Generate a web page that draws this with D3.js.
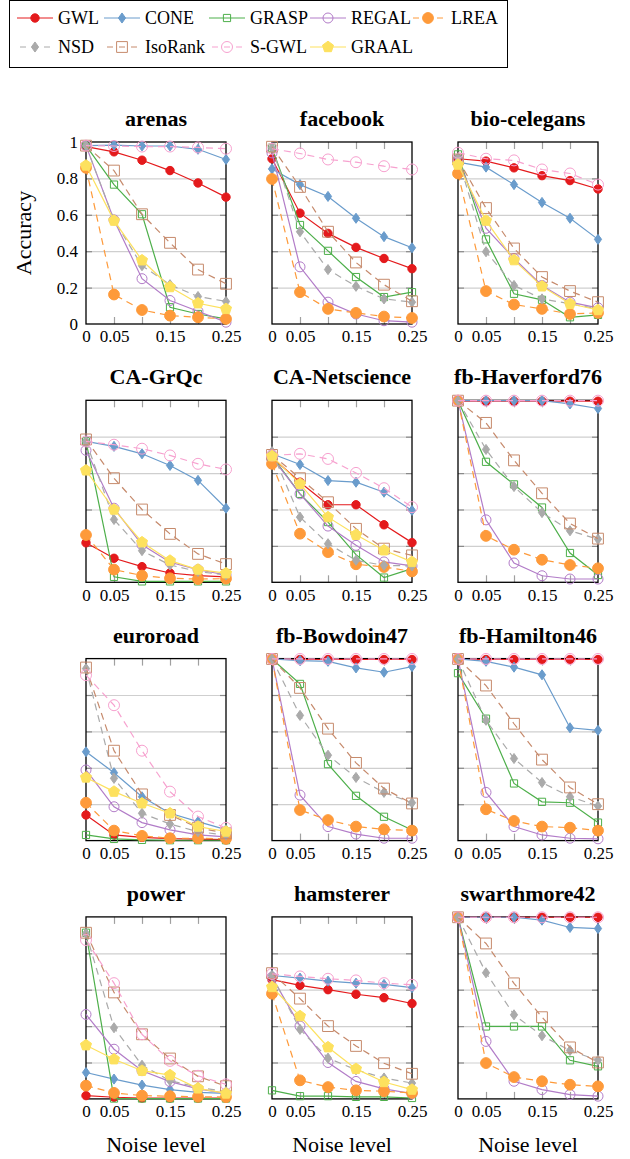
<!DOCTYPE html>
<html>
<head>
<meta charset="utf-8">
<script src="https://cdn.jsdelivr.net/npm/d3@7"></script>
<style>
  body { margin: 0; background: #fff; }
  svg  { display: block; }
</style>
</head>
<body>
<div id="chart"></div>
<script>
"use strict";

/* ── Data ── */
const noiseLevels = [0, 0.05, 0.1, 0.15, 0.2, 0.25];
const methods = ["GWL", "CONE", "GRASP", "REGAL", "LREA", "NSD", "IsoRank", "S-GWL", "GRAAL"];
const datasetNames = ["arenas", "facebook", "bio-celegans",
                      "CA-GrQc", "CA-Netscience", "fb-Haverford76",
                      "euroroad", "fb-Bowdoin47", "fb-Hamilton46",
                      "power", "hamsterer", "swarthmore42"];
const xLabelTicks = [0, 0.05, 0.15, 0.25];
const xTickLabels = ["0", "0.05", "0.15", "0.25"];
const xMinorTicks = [0.05, 0.1, 0.15, 0.2];
const yTicks      = [0, 0.2, 0.4, 0.6, 0.8, 1];
const yTickLabels = ["0", "0.2", "0.4", "0.6", "0.8", "1"];

// rows follow the order of `methods`; null = method not run on that graph
const arenas = [
  [0.975, 0.946, 0.900, 0.843, 0.775, 0.697],
  [0.980, 0.983, 0.978, 0.978, 0.960, 0.904],
  [0.980, 0.766, 0.603, 0.092, 0.055, 0.028],
  [0.980, 0.572, 0.249, 0.129, 0.070, 0.010],
  [0.858, 0.162, 0.077, 0.046, 0.037, 0.028],
  [0.980, 0.572, 0.320, 0.216, 0.151, 0.124],
  [0.980, 0.843, 0.603, 0.446, 0.299, 0.221],
  [0.980, 0.978, 0.975, 0.975, 0.970, 0.963],
  [0.871, 0.568, 0.350, 0.203, 0.114, 0.083]
];
const facebook = [
  [0.908, 0.609, 0.498, 0.421, 0.360, 0.304],
  [0.852, 0.766, 0.701, 0.581, 0.480, 0.419],
  [0.969, 0.544, 0.402, 0.258, 0.148, 0.175],
  [0.940, 0.314, 0.120, 0.055, 0.018, 0.010],
  [0.797, 0.175, 0.083, 0.061, 0.041, 0.033],
  [0.969, 0.507, 0.299, 0.207, 0.138, 0.120],
  [0.974, 0.753, 0.507, 0.338, 0.216, 0.125],
  [0.963, 0.937, 0.904, 0.889, 0.867, 0.849],
  null
];
const bioCelegans = [
  [0.908, 0.895, 0.858, 0.815, 0.788, 0.742],
  [0.889, 0.862, 0.766, 0.668, 0.581, 0.465],
  [0.932, 0.465, 0.166, 0.133, 0.037, 0.050],
  [0.904, 0.526, 0.360, 0.212, 0.120, 0.089],
  [0.827, 0.181, 0.107, 0.083, 0.055, 0.061],
  [0.913, 0.397, 0.212, 0.138, 0.111, 0.083],
  [0.904, 0.637, 0.415, 0.258, 0.181, 0.120],
  [0.941, 0.908, 0.899, 0.849, 0.827, 0.766],
  [0.876, 0.568, 0.351, 0.207, 0.111, 0.077]
];
const caGrQc = [
  [0.217, 0.132, 0.086, 0.051, 0.037, 0.030],
  [0.774, 0.747, 0.706, 0.642, 0.560, 0.407],
  [0.774, 0.030, 0.005, 0.005, 0.005, 0.005],
  [0.725, 0.407, 0.206, 0.110, 0.070, 0.040],
  [0.260, 0.070, 0.037, 0.022, 0.018, 0.020],
  [0.774, 0.345, 0.174, 0.095, 0.059, 0.040],
  [0.785, 0.572, 0.400, 0.266, 0.156, 0.100],
  [0.774, 0.756, 0.734, 0.697, 0.651, 0.620],
  [0.615, 0.400, 0.220, 0.119, 0.070, 0.050]
];
const caNetscience = [
  [0.687, 0.550, 0.426, 0.426, 0.316, 0.218],
  [0.706, 0.647, 0.559, 0.550, 0.495, 0.395],
  [0.693, 0.486, 0.331, 0.152, 0.026, 0.075],
  [0.687, 0.486, 0.309, 0.203, 0.112, 0.090],
  [0.651, 0.267, 0.166, 0.099, 0.084, 0.060],
  [0.718, 0.358, 0.212, 0.121, 0.093, 0.090],
  [0.700, 0.572, 0.440, 0.294, 0.185, 0.148],
  [0.697, 0.706, 0.678, 0.601, 0.517, 0.413],
  [0.693, 0.541, 0.358, 0.261, 0.176, 0.112]
];
const fbHaverford76 = [
  [0.995, 0.995, 0.995, 0.995, 0.995, 0.995],
  [0.998, 0.998, 0.998, 0.998, 0.980, 0.955],
  [0.998, 0.662, 0.538, 0.411, 0.161, 0.040],
  [0.998, 0.343, 0.106, 0.036, 0.018, 0.018],
  [0.998, 0.255, 0.179, 0.124, 0.095, 0.077],
  [0.998, 0.730, 0.526, 0.383, 0.283, 0.237],
  [0.998, 0.876, 0.670, 0.489, 0.323, 0.240],
  [0.998, 0.998, 0.998, 0.998, 0.998, 0.998],
  null
];
const euroroad = [
  [0.141, 0.031, 0.018, 0.011, 0.008, 0.005],
  [0.488, 0.373, 0.241, 0.150, 0.104, 0.060],
  [0.031, 0.009, 0.004, 0.002, 0.002, 0.002],
  [0.388, 0.186, 0.099, 0.059, 0.031, 0.020],
  [0.208, 0.055, 0.026, 0.013, 0.013, 0.010],
  [0.945, 0.342, 0.150, 0.091, 0.049, 0.030],
  [0.951, 0.494, 0.254, 0.141, 0.071, 0.040],
  [0.909, 0.744, 0.494, 0.269, 0.132, 0.070],
  [0.347, 0.269, 0.205, 0.150, 0.077, 0.050]
];
const fbBowdoin47 = [
  [0.995, 0.995, 0.995, 0.995, 0.995, 0.995],
  [0.998, 0.989, 0.985, 0.949, 0.925, 0.956],
  [0.998, 0.861, 0.420, 0.246, 0.131, 0.058],
  [0.998, 0.250, 0.077, 0.036, 0.013, 0.013],
  [0.998, 0.168, 0.113, 0.077, 0.062, 0.055],
  [0.998, 0.688, 0.469, 0.347, 0.265, 0.208],
  [0.998, 0.839, 0.615, 0.427, 0.286, 0.204],
  [0.998, 0.998, 0.998, 0.998, 0.998, 0.998],
  null
];
const fbHamilton46 = [
  [0.995, 0.995, 0.995, 0.995, 0.995, 0.995],
  [0.998, 0.985, 0.953, 0.911, 0.620, 0.606],
  [0.920, 0.670, 0.314, 0.213, 0.208, 0.099],
  [0.998, 0.265, 0.077, 0.031, 0.013, 0.010],
  [0.998, 0.172, 0.108, 0.077, 0.071, 0.055],
  [0.998, 0.661, 0.451, 0.319, 0.241, 0.190],
  [0.998, 0.852, 0.642, 0.445, 0.292, 0.200],
  [0.998, 0.998, 0.998, 0.998, 0.998, 0.998],
  null
];
const power = [
  [0.018, 0.009, 0.005, 0.005, 0.005, 0.005],
  [0.145, 0.109, 0.076, 0.051, 0.036, 0.030],
  [0.913, 0.002, 0.002, 0.002, 0.002, 0.002],
  [0.464, 0.273, 0.155, 0.095, 0.055, 0.030],
  [0.073, 0.033, 0.018, 0.015, 0.012, 0.010],
  [0.909, 0.391, 0.185, 0.100, 0.064, 0.040],
  [0.913, 0.585, 0.355, 0.222, 0.124, 0.070],
  [0.873, 0.636, 0.355, 0.209, 0.127, 0.080],
  [0.295, 0.218, 0.155, 0.131, 0.058, 0.030]
];
const hamsterer = [
  [0.655, 0.624, 0.600, 0.575, 0.556, 0.524],
  [0.678, 0.664, 0.647, 0.636, 0.629, 0.611],
  [0.047, 0.015, 0.015, 0.011, 0.011, 0.005],
  [0.669, 0.400, 0.200, 0.096, 0.055, 0.029],
  [0.578, 0.102, 0.065, 0.047, 0.042, 0.033],
  [0.678, 0.382, 0.224, 0.160, 0.115, 0.087],
  [0.691, 0.551, 0.400, 0.291, 0.196, 0.138],
  [0.687, 0.673, 0.660, 0.651, 0.636, 0.627],
  [0.615, 0.455, 0.284, 0.165, 0.093, 0.051]
];
const swarthmore42 = [
  [0.998, 0.998, 0.998, 0.998, 0.998, 0.998],
  [0.998, 0.998, 0.998, 0.982, 0.942, 0.936],
  [0.998, 0.398, 0.398, 0.398, 0.212, 0.179],
  [0.998, 0.316, 0.097, 0.051, 0.024, 0.015],
  [0.998, 0.197, 0.120, 0.097, 0.078, 0.069],
  [0.998, 0.693, 0.462, 0.347, 0.266, 0.212],
  [0.998, 0.854, 0.635, 0.449, 0.283, 0.200],
  [0.998, 0.998, 0.998, 0.998, 0.998, 0.998],
  null
];
const datasetValues = [arenas, facebook, bioCelegans, caGrQc, caNetscience, fbHaverford76,
                       euroroad, fbBowdoin47, fbHamilton46, power, hamsterer, swarthmore42];

/* ── Series styles ── */
const STYLE = {
  "GWL":     { color: "#e41a1c", shape: "circle",   r: 4.2, filled: true,  dashed: false },
  "CONE":    { color: "#6a9ccc", shape: "diamond",  r: 3.6, filled: true,  dashed: false },
  "GRASP":   { color: "#4daf4a", shape: "square",   r: 3.6, filled: false, dashed: false },
  "REGAL":   { color: "#b27cc8", shape: "circle",   r: 5.0, filled: false, dashed: false },
  "LREA":    { color: "#fe9a3a", shape: "circle",   r: 5.4, filled: true,  dashed: true  },
  "NSD":     { color: "#aaaaaa", shape: "diamond",  r: 3.6, filled: true,  dashed: true  },
  "IsoRank": { color: "#c68a6c", shape: "square",   r: 5.4, filled: false, dashed: true  },
  "S-GWL":   { color: "#f7a1cf", shape: "circle",   r: 5.5, filled: false, dashed: true  },
  "GRAAL":   { color: "#fde15e", shape: "pentagon", r: 5.8, filled: true,  dashed: false }
};

/* ── Layout ── */
const W = 630, H = 1159;
const panelW = 140, panelH = 182;
const colX = [86, 272, 458];
const rowY = [142, 400.3, 658.6, 916.9];
const FONT = "'Liberation Serif', 'Times New Roman', serif";

const svg = d3.select("#chart").append("svg")
  .attr("width", W).attr("height", H)
  .style("font-family", FONT);

const x = d3.scaleLinear().domain([0, 0.25]).range([0, panelW]);
const y = d3.scaleLinear().domain([0, 1]).range([panelH, 0]);

function markerPath(shape, r) {
  const p = d3.path();
  if (shape === "circle") {
    p.moveTo(r, 0); p.arc(0, 0, r, 0, 2 * Math.PI);
  } else if (shape === "diamond") {
    p.moveTo(0, -r * 1.4); p.lineTo(r, 0); p.lineTo(0, r * 1.4); p.lineTo(-r, 0); p.closePath();
  } else if (shape === "square") {
    p.rect(-r, -r, 2 * r, 2 * r);
  } else if (shape === "pentagon") {
    d3.range(5).forEach(k => {
      const a = -Math.PI / 2 + k * 2 * Math.PI / 5;
      k === 0 ? p.moveTo(r * Math.cos(a), r * Math.sin(a)) : p.lineTo(r * Math.cos(a), r * Math.sin(a));
    });
    p.closePath();
  }
  return p.toString();
}

function drawMarker(g, st, cx, cy) {
  g.append("path")
    .attr("transform", `translate(${cx},${cy})`)
    .attr("d", markerPath(st.shape, st.r))
    .attr("fill", st.filled ? st.color : "none")
    .attr("stroke", st.color)
    .attr("stroke-width", 1);
}

/* ── Legend ── */
const legendX = [35, 122, 227, 328, 428];
const legendY = [18, 47];
const legend = svg.append("g");
legend.append("rect")
  .attr("x", 9.5).attr("y", 0.5).attr("width", 498).attr("height", 67)
  .attr("fill", "none").attr("stroke", "#000").attr("stroke-width", 1);
methods.forEach((m, i) => {
  const st = STYLE[m];
  const mx = legendX[i % 5], my = legendY[Math.floor(i / 5)];
  legend.append("line")
    .attr("x1", mx - 18).attr("x2", mx + 18).attr("y1", my).attr("y2", my)
    .attr("stroke", st.color).attr("stroke-width", 1)
    .attr("stroke-dasharray", st.dashed ? "6,6" : null)
    .attr("stroke-dashoffset", st.dashed ? -3 : null);
  drawMarker(legend, st, mx, my);
  legend.append("text")
    .attr("x", mx + 23).attr("y", my + 6)
    .attr("font-size", "18px").attr("fill", "#000")
    .text(m);
});

/* ── Panels ── */
datasetNames.forEach((name, di) => {
  const row = Math.floor(di / 3), col = di % 3;
  const g = svg.append("g").attr("transform", `translate(${colX[col]},${rowY[row]})`);
  const values = datasetValues[di];

  // horizontal grid
  g.append("g")
    .call(d3.axisLeft(y).tickValues([0.2, 0.4, 0.6, 0.8]).tickSize(-panelW).tickFormat(""))
    .call(a => {
      a.select(".domain").remove();
      a.selectAll(".tick line").attr("stroke", "#cfcfcf").attr("stroke-width", 1.2);
    });
  // y tick marks, both sides
  [["left", 0, d3.axisLeft], ["right", panelW, d3.axisRight]].forEach(([, tx, ax]) => {
    g.append("g").attr("transform", `translate(${tx},0)`)
      .call(ax(y).tickValues([0.2, 0.4, 0.6, 0.8]).tickSize(-6).tickFormat(""))
      .call(a => {
        a.select(".domain").remove();
        a.selectAll(".tick line").attr("stroke", "#8a8a8a").attr("stroke-width", 1.2);
      });
  });
  // x tick marks, bottom and top
  g.append("g").attr("transform", `translate(0,${panelH})`)
    .call(d3.axisBottom(x).tickValues(xMinorTicks).tickSize(-7).tickFormat(""))
    .call(a => {
      a.select(".domain").remove();
      a.selectAll(".tick line").attr("stroke", "#a0a0a0").attr("stroke-width", 1.2);
    });
  g.append("g")
    .call(d3.axisTop(x).tickValues(xMinorTicks).tickSize(-7).tickFormat(""))
    .call(a => {
      a.select(".domain").remove();
      a.selectAll(".tick line").attr("stroke", "#a0a0a0").attr("stroke-width", 1.2);
    });

  // x tick labels
  g.append("g").attr("transform", `translate(0,${panelH})`)
    .call(d3.axisBottom(x).tickValues(xLabelTicks).tickSize(0).tickPadding(6)
      .tickFormat((d, i) => xTickLabels[i]))
    .call(a => {
      a.select(".domain").remove();
      a.selectAll(".tick text").attr("fill", "#000").attr("font-size", "17px")
        .attr("font-family", FONT).attr("dy", "0.72em");
    });

  // y tick labels (first panel only)
  if (di === 0) {
    g.append("g")
      .call(d3.axisLeft(y).tickValues(yTicks).tickSize(0).tickPadding(8)
        .tickFormat((d, i) => yTickLabels[i]))
      .call(a => {
        a.select(".domain").remove();
        a.selectAll(".tick text").attr("fill", "#000").attr("font-size", "17px")
          .attr("font-family", FONT);
      });
    svg.append("text")
      .attr("transform", `translate(31,${rowY[0] + panelH / 2}) rotate(-90)`)
      .attr("text-anchor", "middle")
      .attr("font-size", "22px").attr("fill", "#000")
      .text("Accuracy");
  }

  // frame
  g.append("rect")
    .attr("width", panelW).attr("height", panelH)
    .attr("fill", "none").attr("stroke", "#000").attr("stroke-width", 1.3);

  // title
  g.append("text")
    .attr("x", panelW / 2).attr("y", -16)
    .attr("text-anchor", "middle")
    .attr("font-size", "22px").attr("font-weight", "bold").attr("fill", "#000")
    .text(name);

  // x axis label on bottom row
  if (row === 3) {
    g.append("text")
      .attr("x", panelW / 2).attr("y", panelH + 53)
      .attr("text-anchor", "middle")
      .attr("font-size", "22px").attr("fill", "#000")
      .text("Noise level");
  }

  // series
  const line = d3.line().x((d, i) => x(noiseLevels[i])).y(d => y(d));
  methods.forEach((m, mi) => {
    const vals = values[mi];
    if (!vals) return;
    const st = STYLE[m];
    g.append("path")
      .attr("d", line(vals))
      .attr("fill", "none")
      .attr("stroke", st.color)
      .attr("stroke-width", 1.2)
      .attr("stroke-dasharray", st.dashed ? "7,5" : null);
    vals.forEach((v, i) => drawMarker(g, st, x(noiseLevels[i]), y(v)));
  });
});
</script>
</body>
</html>
